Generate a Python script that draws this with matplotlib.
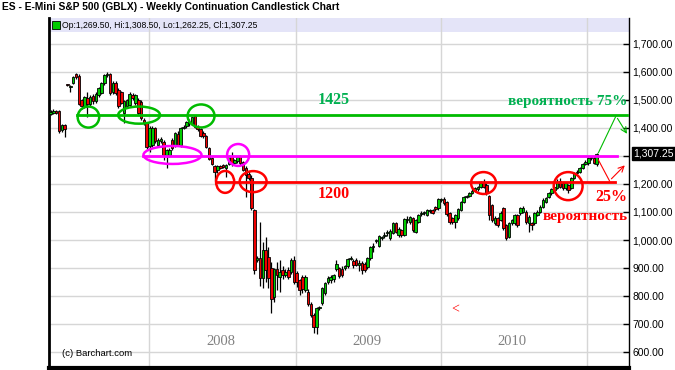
import matplotlib
matplotlib.use("Agg")
import matplotlib.pyplot as plt
from matplotlib.patches import Ellipse, Rectangle
from matplotlib.ticker import FuncFormatter
import numpy as np

# weekly candles (one entry per week)
opens = [1449, 1452, 1460, 1458, 1392, 1408, 1553, 1545, 1560, 1590,
         1586, 1498, 1478, 1505, 1486, 1514, 1494, 1515, 1524, 1558,
         1588, 1592, 1526, 1560, 1534, 1528, 1452, 1478, 1482, 1516,
         1488, 1498, 1492, 1428, 1416, 1334, 1340, 1398, 1340, 1352,
         1350, 1302, 1304, 1356, 1338, 1378, 1338, 1400, 1406, 1418,
         1414, 1442, 1404, 1394, 1382, 1370, 1328, 1292, 1262, 1248,
         1262, 1266, 1256, 1272, 1298, 1276, 1280, 1298, 1278, 1256,
         1236, 1222, 1108, 928, 936, 864, 964, 938, 899, 796,
         895, 870, 893, 875, 893, 887, 929, 883, 857, 869,
         822, 816, 772, 733, 691, 757, 774, 810, 850, 856,
         860, 895, 899, 898, 899, 907, 934, 926, 930, 912,
         918, 915, 903, 935, 976, 997, 979, 1008, 1014, 1026,
         1006, 1026, 1059, 1018, 1036, 1018, 1072, 1065, 1077, 1030,
         1065, 1094, 1097, 1089, 1104, 1107, 1119, 1113, 1142, 1145,
         1137, 1097, 1077, 1065, 1077, 1107, 1137, 1154, 1157, 1169,
         1176, 1180, 1188, 1206, 1196, 1156, 1125, 1059, 1077, 1071,
         1113, 1053, 1012, 1059, 1059, 1089, 1095, 1101, 1101, 1059,
         1059, 1059, 1089, 1101, 1119, 1137, 1154, 1166, 1178, 1184,
         1212, 1202, 1184, 1196, 1184, 1220, 1238, 1244, 1256, 1270,
         1273, 1291, 1292, 1269.50]
highs = [1462, 1465, 1464, 1462, 1414, 1412, 1556, 1552, 1584, 1594,
         1590, 1502, 1512, 1528, 1516, 1520, 1526, 1545, 1562, 1592,
         1600, 1596, 1566, 1566, 1540, 1532, 1500, 1504, 1526, 1524,
         1522, 1506, 1498, 1434, 1420, 1405, 1406, 1404, 1362, 1366,
         1356, 1326, 1328, 1362, 1384, 1388, 1402, 1408, 1424, 1432,
         1440, 1446, 1410, 1398, 1388, 1374, 1332, 1296, 1266, 1268,
         1268, 1272, 1270, 1302, 1314, 1290, 1300, 1302, 1282, 1262,
         1246, 1230, 1112, 944, 1064, 994, 1012, 976, 923, 900,
         922, 928, 906, 898, 904, 935, 944, 890, 862, 876,
         876, 826, 778, 740, 762, 764, 834, 852, 872, 874,
         880, 930, 904, 906, 912, 936, 944, 932, 936, 928,
         924, 920, 940, 978, 990, 1004, 1018, 1016, 1028, 1034,
         1038, 1064, 1064, 1048, 1040, 1078, 1084, 1086, 1082, 1076,
         1094, 1102, 1104, 1112, 1112, 1112, 1122, 1150, 1150, 1152,
         1140, 1100, 1082, 1094, 1114, 1140, 1158, 1162, 1172, 1180,
         1188, 1194, 1210, 1216, 1202, 1160, 1130, 1084, 1082, 1102,
         1118, 1058, 1064, 1076, 1094, 1094, 1118, 1120, 1106, 1088,
         1064, 1100, 1106, 1124, 1148, 1154, 1170, 1184, 1192, 1216,
         1220, 1208, 1208, 1200, 1224, 1242, 1248, 1260, 1276, 1284,
         1296, 1300, 1298, 1308.50]
lows = [1444, 1448, 1450, 1382, 1384, 1366, 1549, 1526, 1555, 1574,
        1480, 1468, 1472, 1440, 1478, 1486, 1488, 1510, 1520, 1554,
        1580, 1518, 1520, 1518, 1470, 1484, 1416, 1470, 1476, 1500,
        1482, 1446, 1428, 1410, 1326, 1312, 1332, 1346, 1334, 1346,
        1286, 1256, 1294, 1322, 1330, 1334, 1332, 1394, 1400, 1406,
        1408, 1400, 1390, 1368, 1364, 1328, 1286, 1268, 1212, 1240,
        1254, 1256, 1226, 1266, 1264, 1270, 1274, 1268, 1246, 1154,
        1214, 1106, 880, 920, 836, 828, 851, 828, 739, 780,
        822, 816, 862, 868, 860, 880, 842, 832, 804, 812,
        816, 764, 726, 668, 666, 752, 770, 804, 844, 846,
        852, 890, 866, 870, 892, 900, 928, 902, 906, 890,
        878, 886, 898, 930, 958, 990, 975, 1000, 1006, 1016,
        1000, 1020, 1024, 1012, 1010, 1014, 1062, 1058, 1030, 1024,
        1060, 1086, 1088, 1084, 1096, 1092, 1104, 1108, 1136, 1126,
        1086, 1058, 1058, 1042, 1072, 1102, 1132, 1148, 1152, 1164,
        1172, 1176, 1184, 1184, 1160, 1070, 1064, 1052, 1046, 1066,
        1036, 1000, 1006, 1054, 1052, 1048, 1090, 1096, 1058, 1030,
        1036, 1054, 1084, 1096, 1114, 1132, 1150, 1162, 1174, 1180,
        1184, 1178, 1178, 1166, 1180, 1216, 1234, 1240, 1252, 1266,
        1268, 1286, 1270, 1262.25]
closes = [1457, 1460, 1454, 1388, 1408, 1394, 1552, 1547, 1580, 1580,
          1486, 1476, 1508, 1486, 1510, 1494, 1520, 1540, 1558, 1588,
          1592, 1524, 1560, 1524, 1478, 1488, 1496, 1500, 1520, 1506,
          1516, 1452, 1434, 1416, 1332, 1400, 1398, 1352, 1358, 1360,
          1302, 1322, 1322, 1328, 1380, 1340, 1398, 1402, 1420, 1422,
          1437, 1404, 1394, 1372, 1370, 1332, 1290, 1272, 1244, 1264,
          1258, 1260, 1266, 1298, 1272, 1286, 1296, 1274, 1250, 1232,
          1222, 1114, 894, 936, 866, 964, 893, 863, 789, 895,
          875, 887, 875, 887, 869, 929, 851, 851, 822, 824,
          870, 772, 733, 691, 757, 760, 828, 846, 866, 868,
          874, 914, 872, 876, 907, 931, 936, 911, 912, 918,
          894, 893, 935, 974, 978, 998, 1014, 1010, 1017, 1026,
          1033, 1059, 1030, 1041, 1018, 1074, 1075, 1081, 1036, 1071,
          1089, 1095, 1097, 1107, 1105, 1097, 1109, 1145, 1144, 1131,
          1093, 1065, 1065, 1089, 1109, 1137, 1154, 1155, 1169, 1176,
          1184, 1190, 1204, 1190, 1166, 1089, 1071, 1077, 1053, 1096,
          1042, 1006, 1059, 1071, 1089, 1053, 1113, 1113, 1065, 1083,
          1053, 1095, 1101, 1119, 1143, 1149, 1166, 1180, 1188, 1208,
          1190, 1184, 1202, 1178, 1220, 1238, 1244, 1256, 1271, 1279,
          1291, 1295, 1276, 1307.25]

year_breaks = [34.9, 86.6, 137.9, 189.5]   # first week of 2008..2011
year_labels = ["2008", "2009", "2010"]
price_ticks = list(range(600, 1800, 100))

level_high, level_mid, level_low = 1445, 1300, 1207
last_close = closes[-1]

GREEN_C = "#00cc00"
RED_C = "#ee0000"
LINE_G = "#00bb00"
TEXT_G = "#00b050"
MAG = "#ff00ff"
RED = "#ff0000"

fig = plt.figure(figsize=(6.75, 3.7), dpi=100)
ax = fig.add_axes([48.5 / 675, 2 / 370, (629 - 48.5) / 675, (368 - 18) / 370])
ax.set_xlim(-0.71, 204.4)
ax.set_ylim(544, 1791)

x = np.arange(len(closes))
o = np.array(opens, float)
c = np.array(closes, float)
body_lo = np.minimum(o, c)
body_h = np.maximum(np.abs(c - o), 2.5)
cols = [GREEN_C if cc >= oo else RED_C for oo, cc in zip(o, c)]

ax.vlines(x, lows, highs, color="black", lw=0.9, zorder=3)
ax.bar(x, body_h, bottom=body_lo, width=0.9, color=cols,
       edgecolor="black", linewidth=0.6, zorder=4)

# grid, band, spines
ax.set_axisbelow(True)
ax.set_xticks(year_breaks)
ax.set_yticks(price_ticks)
ax.grid(True, color="#d6d6d6", lw=1)
ax.add_patch(Rectangle((0, 1 - 14 / 350), 1, 14 / 350, transform=ax.transAxes,
                       facecolor="#e4e4f8", edgecolor="none", zorder=0.2))
ax.tick_params(axis="x", length=0, labelbottom=False)
ax.yaxis.tick_right()
ax.tick_params(axis="y", direction="in", length=4, pad=2.5, labelsize=7.5,
               width=1)
ax.yaxis.set_major_formatter(FuncFormatter(
    lambda v, p: "" if v == 1300 else "{:,.2f}".format(v)))
for lab in ax.get_yticklabels():
    lab.set_family("Liberation Sans")
ax.spines["top"].set_visible(False)
ax.spines["left"].set_linewidth(2)
ax.spines["bottom"].set_linewidth(3)
ax.spines["right"].set_linewidth(1)

# levels drawn by hand
ax.plot([9.4, 203.7], [level_high] * 2, color=LINE_G, lw=2, zorder=5)
ax.plot([32.7, 200.2], [level_mid] * 2, color=MAG, lw=2, zorder=5)
ax.plot([58.5, 199.5], [level_low] * 2, color=RED, lw=2, zorder=5)

rings = [
    ((13.4, 1438), 7.6, 75, LINE_G), ((31.3, 1445), 14.8, 61, LINE_G),
    ((53.2, 1442), 9.5, 82, LINE_G),
    ((43.1, 1303), 20.5, 64, MAG), ((66.3, 1303), 7.8, 78, MAG),
    ((61.7, 1207), 6.4, 78, RED), ((71.6, 1208), 9.5, 75, RED),
    ((153.0, 1203), 8.8, 78, RED), ((182.9, 1192), 10.2, 100, RED),
]
for ctr, w, h, col in rings:
    ax.add_patch(Ellipse(ctr, w, h, fill=False, edgecolor=col, lw=1.8, zorder=6))

serif = "Liberation Serif"
ax.text(100.2, 1499, "1425", color=TEXT_G, fontsize=11.5, fontweight="bold",
        family=serif, ha="center", va="center", zorder=7)
ax.text(100.2, 1164, "1200", color=RED, fontsize=11.5, fontweight="bold",
        family=serif, ha="center", va="center", zorder=7)
ax.text(182.9, 1495, "вероятность 75%", color=TEXT_G, fontsize=11,
        fontweight="bold", family=serif, ha="center", va="center", zorder=7,
        clip_on=False)
ax.text(198.0, 1153, "25%", color=RED, fontsize=11.5, fontweight="bold",
        family=serif, ha="center", va="center", zorder=7, clip_on=False)
ax.text(188.9, 1082, "вероятность", color=RED, fontsize=11, fontweight="bold",
        family=serif, ha="center", va="center", zorder=7, clip_on=False)
ax.text(142.9, 750, "<", color=RED, fontsize=10, family=serif,
        ha="center", va="center")

# arrows
ax.plot([193.6, 199.8], [1311, 1442], color=LINE_G, lw=0.8, zorder=7,
        clip_on=False)
ax.annotate("", xy=(204.2, 1370), xytext=(199.8, 1442), annotation_clip=False,
            arrowprops=dict(arrowstyle="->", color=LINE_G, lw=0.8), zorder=7)
ax.plot([193.6, 197.5], [1285, 1211], color=RED, lw=0.8, zorder=7,
        clip_on=False)
ax.annotate("", xy=(203.6, 1273), xytext=(197.5, 1211), annotation_clip=False,
            arrowprops=dict(arrowstyle="->", color=RED, lw=0.8), zorder=7)

# year labels centred between the year gridlines
for k, lab in enumerate(year_labels):
    mid = (year_breaks[k] + year_breaks[k + 1]) / 2 - 0.6
    ax.text(mid, 638, lab, color="#808080", fontsize=10.5, family=serif,
            ha="center", va="center")

ax.text(4, 594, "(c) Barchart.com", fontsize=6.8, family="Liberation Sans",
        ha="left", va="center")

# last price box on the axis
ax.annotate("{:,.2f}".format(last_close), xy=(1.0, last_close),
            xycoords=("axes fraction", "data"), xytext=(3, 0),
            textcoords="offset points", va="center", ha="left", fontsize=7.5,
            family="Liberation Sans", color="white",
            bbox=dict(boxstyle="square,pad=0.15", fc="black", ec="black"),
            annotation_clip=False)

# header and quote line
fig.text(2 / 675, 1 - 7.5 / 370,
         "ES - E-Mini S&P 500 (GBLX) - Weekly Continuation Candlestick Chart",
         fontsize=7.35, fontweight="bold", family="Liberation Sans", va="center")
fig.patches.append(Rectangle((52 / 675, 1 - 29 / 370), 8 / 675, 8 / 370,
                             transform=fig.transFigure, facecolor=GREEN_C,
                             edgecolor="black", lw=0.6))
fig.text(62 / 675, 1 - 25 / 370,
         "Op:{:,.2f}, Hi:{:,.2f}, Lo:{:,.2f}, Cl:{:,.2f}".format(
             opens[-1], highs[-1], lows[-1], closes[-1]),
         fontsize=6.2, family="Liberation Sans", va="center")

fig.savefig("out.png", dpi=100)
